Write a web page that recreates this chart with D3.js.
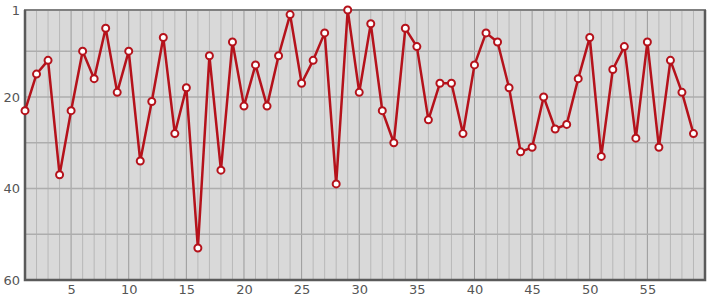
<!DOCTYPE html>
<html>
<head>
<meta charset="utf-8">
<script src="https://cdn.jsdelivr.net/npm/d3@7"></script>
<style>
  body { margin: 0; background: #fff; }
  svg text { font-family: "DejaVu Sans", sans-serif; font-size: 13px; fill: #555; }
</style>
</head>
<body>
<div id="chart"></div>
<script>
const width = 715;
const height = 300;

// data
const positions = [23, 15, 12, 37, 23, 10, 16, 5, 19, 10,
                   34, 21, 7, 28, 18, 53, 11, 36, 8, 22,
                   13, 22, 11, 2, 17, 12, 6, 39, 1, 19,
                   4, 23, 30, 5, 9, 25, 17, 17, 28, 13,
                   6, 8, 18, 32, 31, 20, 27, 26, 16, 7,
                   33, 14, 9, 29, 8, 31, 12, 19, 28];
const xTicks = [5, 10, 15, 20, 25, 30, 35, 40, 45, 50, 55];
const yTicks = [1, 20, 40, 60];
const yGrid = [10, 20, 30, 40, 50];

const margin = { top: 10, right: 10, bottom: 20, left: 25 };

const svg = d3.select("#chart")
  .append("svg")
  .attr("width", width)
  .attr("height", height);

const x = d3.scaleLinear().domain([1, 60]).range([margin.left, width - margin.right]);
const y = d3.scaleLinear().domain([1, 60]).range([margin.top, height - margin.bottom]);

// fond gris
svg.append("rect")
  .attr("x", x(1)).attr("y", y(1))
  .attr("width", x(60) - x(1)).attr("height", y(60) - y(1))
  .attr("fill", "#d9d9d9");

// grille verticale, une ligne par entier, plus foncée tous les 5
svg.append("g")
  .selectAll("line")
  .data(d3.range(2, 60))
  .join("line")
  .attr("x1", d => x(d)).attr("x2", d => x(d))
  .attr("y1", y(1)).attr("y2", y(60))
  .attr("stroke", d => d % 5 === 0 ? "#9a9a9a" : "#b8b8b8")
  .attr("stroke-width", 1);

svg.append("g")
  .selectAll("line")
  .data(yGrid)
  .join("line")
  .attr("x1", x(1)).attr("x2", x(60))
  .attr("y1", d => y(d)).attr("y2", d => y(d))
  .attr("stroke", "#adadad")
  .attr("stroke-width", 1.5);

// cadre
svg.append("rect")
  .attr("x", x(1)).attr("y", y(1))
  .attr("width", x(60) - x(1)).attr("height", y(60) - y(1))
  .attr("fill", "none")
  .attr("stroke", "#808080")
  .attr("stroke-width", 2);
svg.append("path")
  .attr("d", `M${x(1)},${y(1)}V${y(60)}H${x(60)}V${y(1)}`)
  .attr("fill", "none")
  .attr("stroke", "#5a5a5a")
  .attr("stroke-width", 2.5);

// axes (texte seulement)
const xAxis = svg.append("g")
  .attr("transform", `translate(0,${y(60)})`)
  .call(d3.axisBottom(x).tickValues(xTicks).tickSize(0).tickPadding(5));
const yAxis = svg.append("g")
  .attr("transform", `translate(${x(1)},0)`)
  .call(d3.axisLeft(y).tickValues(yTicks).tickSize(0).tickPadding(5));
[xAxis, yAxis].forEach(g => {
  g.select(".domain").remove();
  g.selectAll("text").attr("fill", "#555").style("font-size", "13px").style("font-family", "DejaVu Sans, sans-serif");
});

// la série
const line = d3.line()
  .x((d, i) => x(i + 1))
  .y(d => y(d));

svg.append("path")
  .datum(positions)
  .attr("d", line)
  .attr("fill", "none")
  .attr("stroke", "#b5121b")
  .attr("stroke-width", 2.5)
  .attr("stroke-linejoin", "round");

svg.append("g")
  .selectAll("circle")
  .data(positions)
  .join("circle")
  .attr("cx", (d, i) => x(i + 1))
  .attr("cy", d => y(d))
  .attr("r", 3.5)
  .attr("fill", "#fff")
  .attr("stroke", "#b5121b")
  .attr("stroke-width", 2);
</script>
</body>
</html>
